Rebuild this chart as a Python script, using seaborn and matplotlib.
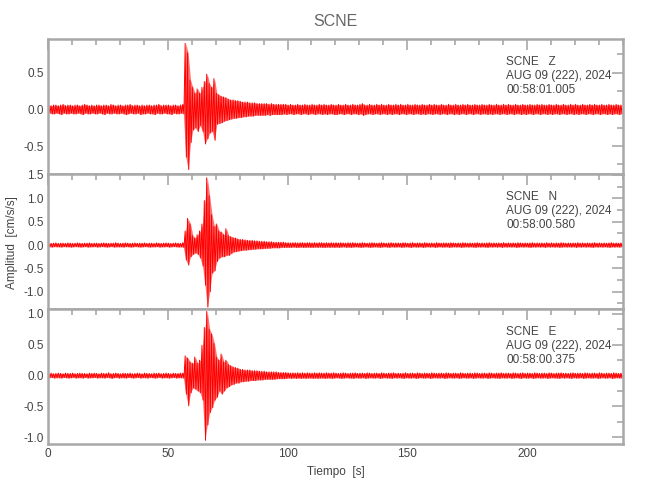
import numpy as np
import matplotlib
matplotlib.use("Agg")
import matplotlib.pyplot as plt
from matplotlib.ticker import MultipleLocator, FormatStrFormatter
import seaborn as sns

# ------------------------------
# Trace envelopes: max / min per 1 s bin (0..239 s)
# ------------------------------
z_up = [0.06, 0.05, 0.06, 0.06, 0.05, 0.06, 0.07, 0.05, 0.06, 0.06,
        0.05, 0.06, 0.06, 0.05, 0.06, 0.07, 0.06, 0.05, 0.06, 0.05,
        0.06, 0.06, 0.05, 0.06, 0.06, 0.05, 0.07, 0.06, 0.05, 0.06,
        0.06, 0.05, 0.06, 0.06, 0.07, 0.05, 0.06, 0.06, 0.05, 0.06,
        0.05, 0.06, 0.06, 0.05, 0.06, 0.06, 0.07, 0.05, 0.06, 0.06,
        0.06, 0.05, 0.06, 0.06, 0.05, 0.06, 0.07, 0.90, 0.77, 0.40,
        0.30, 0.22, 0.28, 0.22, 0.30, 0.38, 0.48, 0.35, 0.30, 0.42,
        0.22, 0.20, 0.18, 0.17, 0.16, 0.14, 0.13, 0.13, 0.12, 0.12,
        0.11, 0.10, 0.10, 0.10, 0.09, 0.09, 0.09, 0.08, 0.08, 0.08,
        0.08, 0.08, 0.07, 0.08, 0.07, 0.07, 0.07, 0.07, 0.07, 0.07,
        0.06, 0.07, 0.06, 0.06, 0.07, 0.06, 0.06, 0.07, 0.06, 0.06,
        0.07, 0.06, 0.06, 0.07, 0.06, 0.07, 0.06, 0.06, 0.07, 0.06,
        0.06, 0.07, 0.06, 0.06, 0.07, 0.06, 0.06, 0.07, 0.06, 0.06,
        0.07, 0.08, 0.06, 0.06, 0.07, 0.06, 0.06, 0.07, 0.06, 0.07,
        0.06, 0.06, 0.07, 0.06, 0.06, 0.07, 0.06, 0.07, 0.06, 0.06,
        0.07, 0.06, 0.06, 0.07, 0.06, 0.06, 0.07, 0.06, 0.06, 0.07,
        0.06, 0.07, 0.06, 0.06, 0.07, 0.06, 0.06, 0.07, 0.06, 0.06,
        0.07, 0.06, 0.06, 0.07, 0.06, 0.07, 0.06, 0.06, 0.07, 0.06,
        0.06, 0.07, 0.06, 0.06, 0.07, 0.06, 0.06, 0.07, 0.06, 0.06,
        0.07, 0.06, 0.07, 0.06, 0.06, 0.07, 0.06, 0.06, 0.07, 0.06,
        0.06, 0.07, 0.06, 0.06, 0.07, 0.06, 0.07, 0.06, 0.06, 0.07,
        0.06, 0.06, 0.07, 0.06, 0.06, 0.07, 0.06, 0.06, 0.07, 0.06,
        0.07, 0.06, 0.06, 0.07, 0.06, 0.06, 0.07, 0.06, 0.07, 0.06,
        0.06, 0.07, 0.06, 0.06, 0.07, 0.06, 0.06, 0.07, 0.06, 0.06]
z_lo = [-0.05, -0.06, -0.06, -0.05, -0.06, -0.07, -0.05, -0.06, -0.06, -0.05,
        -0.06, -0.06, -0.05, -0.06, -0.07, -0.05, -0.06, -0.06, -0.05, -0.06,
        -0.06, -0.05, -0.06, -0.07, -0.05, -0.06, -0.06, -0.05, -0.06, -0.06,
        -0.05, -0.06, -0.07, -0.06, -0.05, -0.06, -0.06, -0.05, -0.07, -0.06,
        -0.06, -0.05, -0.06, -0.06, -0.07, -0.05, -0.06, -0.06, -0.05, -0.06,
        -0.06, -0.07, -0.05, -0.06, -0.06, -0.05, -0.06, -0.65, -0.82, -0.45,
        -0.28, -0.25, -0.30, -0.22, -0.30, -0.47, -0.40, -0.32, -0.30, -0.42,
        -0.20, -0.19, -0.18, -0.16, -0.15, -0.14, -0.13, -0.12, -0.12, -0.11,
        -0.11, -0.10, -0.10, -0.09, -0.09, -0.09, -0.08, -0.08, -0.08, -0.08,
        -0.08, -0.07, -0.08, -0.07, -0.07, -0.07, -0.07, -0.07, -0.06, -0.07,
        -0.06, -0.06, -0.07, -0.06, -0.06, -0.07, -0.06, -0.06, -0.07, -0.06,
        -0.06, -0.07, -0.06, -0.06, -0.07, -0.06, -0.07, -0.06, -0.06, -0.07,
        -0.07, -0.06, -0.06, -0.07, -0.06, -0.06, -0.07, -0.06, -0.06, -0.07,
        -0.06, -0.08, -0.07, -0.06, -0.06, -0.07, -0.06, -0.06, -0.07, -0.06,
        -0.06, -0.07, -0.06, -0.07, -0.06, -0.06, -0.07, -0.06, -0.06, -0.07,
        -0.06, -0.06, -0.07, -0.06, -0.06, -0.07, -0.06, -0.07, -0.06, -0.06,
        -0.07, -0.06, -0.06, -0.07, -0.06, -0.06, -0.07, -0.06, -0.06, -0.07,
        -0.06, -0.07, -0.06, -0.06, -0.07, -0.06, -0.06, -0.07, -0.06, -0.06,
        -0.07, -0.06, -0.06, -0.07, -0.06, -0.07, -0.06, -0.06, -0.07, -0.06,
        -0.06, -0.07, -0.06, -0.06, -0.07, -0.06, -0.06, -0.07, -0.06, -0.07,
        -0.06, -0.06, -0.07, -0.06, -0.06, -0.07, -0.06, -0.06, -0.07, -0.06,
        -0.07, -0.06, -0.06, -0.07, -0.06, -0.06, -0.07, -0.06, -0.06, -0.07,
        -0.06, -0.07, -0.06, -0.06, -0.07, -0.06, -0.06, -0.07, -0.06, -0.06,
        -0.07, -0.06, -0.06, -0.07, -0.06, -0.07, -0.06, -0.06, -0.07, -0.06]

n_up = [0.04, 0.035, 0.04, 0.045, 0.035, 0.04, 0.04, 0.035, 0.045, 0.04,
        0.035, 0.04, 0.045, 0.04, 0.035, 0.04, 0.04, 0.045, 0.035, 0.04,
        0.04, 0.035, 0.04, 0.045, 0.04, 0.035, 0.04, 0.04, 0.05, 0.04,
        0.035, 0.04, 0.045, 0.04, 0.035, 0.04, 0.045, 0.035, 0.04, 0.04,
        0.045, 0.035, 0.04, 0.04, 0.035, 0.045, 0.04, 0.035, 0.04, 0.045,
        0.04, 0.035, 0.04, 0.045, 0.04, 0.035, 0.05, 0.30, 0.57, 0.45,
        0.20, 0.15, 0.22, 0.30, 0.45, 0.95, 1.44, 1.05, 0.65, 0.40,
        0.45, 0.30, 0.28, 0.22, 0.35, 0.20, 0.18, 0.16, 0.15, 0.13,
        0.12, 0.12, 0.11, 0.10, 0.10, 0.10, 0.09, 0.09, 0.08, 0.08,
        0.08, 0.07, 0.07, 0.07, 0.06, 0.06, 0.06, 0.06, 0.06, 0.05,
        0.05, 0.045, 0.05, 0.05, 0.045, 0.05, 0.05, 0.045, 0.05, 0.05,
        0.045, 0.05, 0.045, 0.05, 0.05, 0.045, 0.05, 0.045, 0.05, 0.045,
        0.05, 0.045, 0.05, 0.045, 0.04, 0.05, 0.045, 0.05, 0.045, 0.04,
        0.045, 0.05, 0.045, 0.04, 0.045, 0.05, 0.045, 0.04, 0.045, 0.05,
        0.045, 0.04, 0.045, 0.05, 0.04, 0.045, 0.045, 0.04, 0.05, 0.045,
        0.04, 0.045, 0.05, 0.04, 0.045, 0.045, 0.04, 0.05, 0.045, 0.04,
        0.045, 0.04, 0.05, 0.045, 0.04, 0.045, 0.045, 0.04, 0.05, 0.045,
        0.04, 0.045, 0.04, 0.05, 0.045, 0.04, 0.045, 0.04, 0.045, 0.05,
        0.04, 0.045, 0.04, 0.045, 0.05, 0.04, 0.045, 0.04, 0.045, 0.04,
        0.05, 0.04, 0.045, 0.04, 0.045, 0.04, 0.05, 0.045, 0.04, 0.045,
        0.04, 0.045, 0.05, 0.04, 0.045, 0.04, 0.045, 0.04, 0.05, 0.04,
        0.045, 0.04, 0.045, 0.04, 0.05, 0.045, 0.04, 0.045, 0.04, 0.045,
        0.04, 0.05, 0.04, 0.045, 0.04, 0.045, 0.04, 0.045, 0.05, 0.04,
        0.045, 0.04, 0.045, 0.04, 0.045, 0.05, 0.04, 0.045, 0.04, 0.045]
n_lo = [-0.04, -0.045, -0.035, -0.04, -0.04, -0.045, -0.035, -0.04, -0.04, -0.045,
        -0.04, -0.035, -0.04, -0.045, -0.04, -0.035, -0.045, -0.04, -0.04, -0.035,
        -0.045, -0.04, -0.035, -0.04, -0.045, -0.04, -0.035, -0.045, -0.04, -0.04,
        -0.04, -0.045, -0.035, -0.04, -0.045, -0.04, -0.035, -0.04, -0.045, -0.04,
        -0.035, -0.04, -0.045, -0.04, -0.04, -0.035, -0.045, -0.04, -0.04, -0.035,
        -0.045, -0.04, -0.035, -0.04, -0.045, -0.04, -0.05, -0.32, -0.43, -0.25,
        -0.20, -0.17, -0.20, -0.28, -0.45, -0.86, -1.33, -1.00, -0.60, -0.55,
        -0.35, -0.28, -0.25, -0.25, -0.22, -0.22, -0.18, -0.15, -0.14, -0.13,
        -0.12, -0.11, -0.11, -0.10, -0.10, -0.09, -0.09, -0.08, -0.08, -0.08,
        -0.07, -0.07, -0.07, -0.06, -0.06, -0.06, -0.06, -0.05, -0.05, -0.05,
        -0.05, -0.05, -0.045, -0.05, -0.05, -0.045, -0.05, -0.05, -0.045, -0.05,
        -0.05, -0.045, -0.05, -0.045, -0.05, -0.05, -0.045, -0.05, -0.045, -0.05,
        -0.045, -0.05, -0.045, -0.04, -0.05, -0.045, -0.05, -0.045, -0.04, -0.045,
        -0.05, -0.045, -0.04, -0.045, -0.05, -0.045, -0.04, -0.045, -0.05, -0.045,
        -0.04, -0.045, -0.05, -0.04, -0.045, -0.045, -0.04, -0.05, -0.045, -0.04,
        -0.045, -0.05, -0.04, -0.045, -0.045, -0.04, -0.05, -0.045, -0.04, -0.045,
        -0.04, -0.05, -0.045, -0.04, -0.045, -0.045, -0.04, -0.05, -0.045, -0.04,
        -0.045, -0.04, -0.05, -0.045, -0.04, -0.045, -0.04, -0.045, -0.05, -0.04,
        -0.045, -0.04, -0.045, -0.05, -0.04, -0.045, -0.04, -0.045, -0.04, -0.05,
        -0.04, -0.045, -0.04, -0.045, -0.04, -0.05, -0.045, -0.04, -0.045, -0.04,
        -0.045, -0.05, -0.04, -0.045, -0.04, -0.045, -0.04, -0.05, -0.04, -0.045,
        -0.04, -0.045, -0.04, -0.05, -0.045, -0.04, -0.045, -0.04, -0.045, -0.04,
        -0.05, -0.04, -0.045, -0.04, -0.045, -0.04, -0.045, -0.05, -0.04, -0.045,
        -0.04, -0.045, -0.04, -0.045, -0.05, -0.04, -0.045, -0.04, -0.045, -0.04]

e_up = [0.035, 0.04, 0.03, 0.035, 0.04, 0.035, 0.03, 0.04, 0.035, 0.035,
        0.04, 0.03, 0.035, 0.04, 0.035, 0.035, 0.03, 0.04, 0.035, 0.04,
        0.035, 0.03, 0.04, 0.035, 0.035, 0.045, 0.03, 0.035, 0.04, 0.035,
        0.03, 0.04, 0.035, 0.035, 0.04, 0.03, 0.035, 0.04, 0.035, 0.03,
        0.04, 0.035, 0.035, 0.03, 0.04, 0.035, 0.04, 0.03, 0.035, 0.04,
        0.035, 0.03, 0.04, 0.035, 0.035, 0.04, 0.04, 0.32, 0.28, 0.22,
        0.20, 0.30, 0.20, 0.25, 0.49, 0.78, 1.04, 0.75, 0.67, 0.52,
        0.30, 0.25, 0.35, 0.22, 0.25, 0.18, 0.16, 0.14, 0.13, 0.12,
        0.10, 0.10, 0.09, 0.09, 0.09, 0.08, 0.08, 0.08, 0.07, 0.07,
        0.07, 0.06, 0.06, 0.06, 0.06, 0.06, 0.05, 0.05, 0.05, 0.05,
        0.045, 0.04, 0.045, 0.04, 0.045, 0.04, 0.045, 0.04, 0.045, 0.04,
        0.04, 0.045, 0.04, 0.045, 0.04, 0.04, 0.045, 0.04, 0.04, 0.045,
        0.04, 0.035, 0.04, 0.045, 0.04, 0.035, 0.04, 0.04, 0.045, 0.035,
        0.04, 0.04, 0.035, 0.045, 0.04, 0.035, 0.04, 0.04, 0.035, 0.045,
        0.04, 0.035, 0.04, 0.04, 0.045, 0.035, 0.04, 0.035, 0.04, 0.045,
        0.035, 0.04, 0.04, 0.035, 0.045, 0.04, 0.035, 0.04, 0.04, 0.035,
        0.045, 0.04, 0.035, 0.04, 0.04, 0.035, 0.045, 0.04, 0.035, 0.04,
        0.04, 0.035, 0.045, 0.04, 0.035, 0.04, 0.04, 0.035, 0.045, 0.04,
        0.035, 0.04, 0.04, 0.035, 0.045, 0.04, 0.035, 0.04, 0.04, 0.045,
        0.035, 0.04, 0.04, 0.035, 0.045, 0.04, 0.035, 0.04, 0.045, 0.035,
        0.04, 0.04, 0.035, 0.045, 0.04, 0.035, 0.04, 0.04, 0.035, 0.045,
        0.04, 0.035, 0.04, 0.04, 0.045, 0.035, 0.04, 0.035, 0.04, 0.045,
        0.035, 0.04, 0.04, 0.035, 0.045, 0.04, 0.035, 0.04, 0.04, 0.035,
        0.045, 0.04, 0.035, 0.04, 0.04, 0.035, 0.045, 0.04, 0.035, 0.04]
e_lo = [-0.035, -0.03, -0.04, -0.035, -0.035, -0.04, -0.03, -0.035, -0.04, -0.035,
        -0.03, -0.04, -0.035, -0.035, -0.04, -0.03, -0.04, -0.035, -0.035, -0.03,
        -0.04, -0.035, -0.035, -0.04, -0.03, -0.035, -0.045, -0.035, -0.03, -0.04,
        -0.035, -0.035, -0.04, -0.03, -0.035, -0.04, -0.035, -0.03, -0.04, -0.035,
        -0.035, -0.04, -0.03, -0.035, -0.04, -0.035, -0.03, -0.04, -0.035, -0.035,
        -0.04, -0.035, -0.03, -0.04, -0.035, -0.035, -0.04, -0.30, -0.49, -0.28,
        -0.20, -0.22, -0.25, -0.28, -0.40, -1.05, -0.80, -0.60, -0.52, -0.40,
        -0.35, -0.25, -0.30, -0.25, -0.20, -0.18, -0.15, -0.14, -0.12, -0.12,
        -0.10, -0.10, -0.09, -0.09, -0.08, -0.08, -0.08, -0.07, -0.07, -0.07,
        -0.06, -0.06, -0.06, -0.06, -0.06, -0.05, -0.05, -0.05, -0.05, -0.045,
        -0.04, -0.045, -0.04, -0.045, -0.04, -0.045, -0.04, -0.045, -0.04, -0.04,
        -0.045, -0.04, -0.045, -0.04, -0.04, -0.045, -0.04, -0.04, -0.045, -0.04,
        -0.035, -0.04, -0.045, -0.04, -0.035, -0.04, -0.04, -0.045, -0.035, -0.04,
        -0.04, -0.035, -0.045, -0.04, -0.035, -0.04, -0.04, -0.035, -0.045, -0.04,
        -0.035, -0.04, -0.04, -0.045, -0.035, -0.04, -0.035, -0.04, -0.045, -0.035,
        -0.04, -0.04, -0.035, -0.045, -0.04, -0.035, -0.04, -0.04, -0.035, -0.045,
        -0.04, -0.035, -0.04, -0.04, -0.035, -0.045, -0.04, -0.035, -0.04, -0.04,
        -0.035, -0.045, -0.04, -0.035, -0.04, -0.04, -0.035, -0.045, -0.04, -0.035,
        -0.04, -0.04, -0.035, -0.045, -0.04, -0.035, -0.04, -0.04, -0.045, -0.035,
        -0.04, -0.04, -0.035, -0.045, -0.04, -0.035, -0.04, -0.045, -0.035, -0.04,
        -0.04, -0.035, -0.045, -0.04, -0.035, -0.04, -0.04, -0.035, -0.045, -0.04,
        -0.035, -0.04, -0.04, -0.045, -0.035, -0.04, -0.035, -0.04, -0.045, -0.035,
        -0.04, -0.04, -0.035, -0.045, -0.04, -0.035, -0.04, -0.04, -0.035, -0.045,
        -0.04, -0.035, -0.04, -0.04, -0.035, -0.045, -0.04, -0.035, -0.04, -0.04]

channels = ['Z', 'N', 'E']
start_times = ['00:58:01.005', '00:58:00.580', '00:58:00.375']
date_label = 'AUG 09 (222), 2024'
station = 'SCNE'
ylims = [(-0.88, 0.96), (-1.37, 1.52), (-1.11, 1.08)]
yticks = [[-0.5, 0.0, 0.5],
          [-1.0, -0.5, 0.0, 0.5, 1.0, 1.5],
          [-1.0, -0.5, 0.0, 0.5, 1.0]]
envelopes = [(z_up, z_lo), (n_up, n_lo), (e_up, e_lo)]

# ------------------------------
# Style
# ------------------------------
sns.set_style('white')
plt.rcParams['font.family'] = ['Liberation Sans', 'DejaVu Sans']
grey = '#a8a8a8'
txt = '#444444'
fs = 8.5

fig = plt.figure(figsize=(6.5, 5), dpi=100)
gs = fig.add_gridspec(3, 1, left=0.074, right=0.958, top=0.922, bottom=0.112, hspace=0)

bins = np.arange(len(z_up))
for i, (ch, (up, lo)) in enumerate(zip(channels, envelopes)):
    ax = fig.add_subplot(gs[i])
    # envelope band plus min/max zigzag, like a decimated seismogram
    ax.fill_between(bins + 0.5, lo, up, color='red', alpha=0.55, linewidth=0)
    x = np.column_stack([bins + 0.25, bins + 0.75]).ravel()
    y = np.column_stack([up, lo]).ravel()
    sns.lineplot(x=x, y=y, ax=ax, color='red', linewidth=0.7,
                 estimator=None, sort=False)
    ax.set_xlim(0, 240)
    ax.set_ylim(*ylims[i])
    ax.set_yticks(yticks[i])
    ax.yaxis.set_minor_locator(MultipleLocator(0.25))
    ax.yaxis.set_major_formatter(FormatStrFormatter('%.1f'))
    ax.xaxis.set_major_locator(MultipleLocator(50))
    ax.xaxis.set_minor_locator(MultipleLocator(10))
    ax.tick_params(which='both', direction='in', top=True, right=True,
                   color=grey, labelcolor=txt, labelsize=fs, width=1.2, pad=3)
    ax.tick_params(which='major', length=8)
    ax.tick_params(which='minor', length=4)
    if i < 2:
        ax.tick_params(labelbottom=False)
    for sp in ax.spines.values():
        sp.set_color(grey)
        sp.set_linewidth(1.8)
    ax.set_xlabel('')
    ax.set_ylabel('')

    ax.text(0.797, 0.83, f'{station}   {ch}', transform=ax.transAxes,
            va='center', ha='left', fontsize=fs, color=txt)
    ax.text(0.797, 0.725, date_label, transform=ax.transAxes,
            va='center', ha='left', fontsize=fs, color=txt)
    ax.text(0.797, 0.62, start_times[i], transform=ax.transAxes,
            va='center', ha='left', fontsize=fs, color=txt)

fig.text(0.516, 0.958, station, ha='center', va='center', fontsize=11.5, color='#666666')
fig.text(0.516, 0.056, 'Tiempo  [s]', ha='center', va='center', fontsize=fs, color=txt)
fig.text(0.019, 0.515, 'Amplitud  [cm/s/s]', ha='center', va='center', rotation=90,
         fontsize=fs, color=txt)

fig.savefig('out.png', dpi=100)
